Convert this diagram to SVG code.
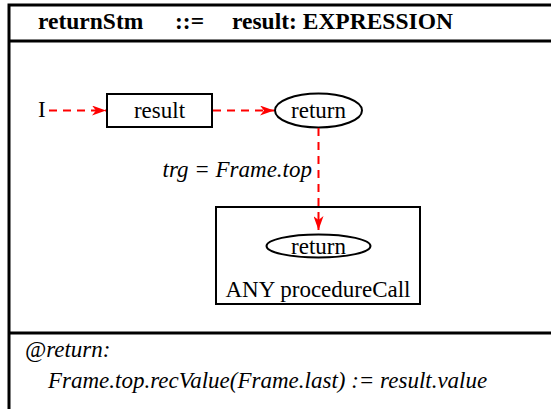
<svg xmlns="http://www.w3.org/2000/svg" width="551" height="409" viewBox="0 0 551 409">
<style>
.t{font-family:"Liberation Serif","Times New Roman",serif;font-size:23px;fill:#000}
.b{font-weight:bold;font-size:23.5px}
.i{font-style:italic}
.box{fill:none;stroke:#000;stroke-width:2}
.frame{fill:none;stroke:#000;stroke-width:3}
.dash{fill:none;stroke:#ff0000;stroke-width:2;stroke-dasharray:8,6}
</style>
<defs>
<marker id="ah" viewBox="0 0 14 10" refX="14" refY="5" markerWidth="14" markerHeight="10" markerUnits="userSpaceOnUse" orient="auto">
<path d="M0,0 L14,5 L0,10 L4,5 z" fill="#ff0000"/>
</marker>
</defs>
<g id="frame">
<rect class="frame" x="9" y="5" width="560" height="430"/>
<line class="frame" x1="9" y1="41" x2="551" y2="41"/>
<line class="frame" x1="9" y1="333" x2="551" y2="333"/>
<text class="t b" x="38" y="29">returnStm</text>
<text class="t b" x="175" y="29">::=</text>
<text class="t b" x="232" y="29">result: EXPRESSION</text>
</g>
<g id="start"><text class="t" x="38" y="117">I</text></g>
<g id="result">
<rect class="box" x="107" y="94" width="105" height="33"/>
<text class="t" x="159.5" y="118" text-anchor="middle">result</text>
</g>
<g id="return1">
<ellipse class="box" cx="318.5" cy="110.5" rx="43.5" ry="17"/>
<text class="t" x="318.5" y="118" text-anchor="middle">return</text>
</g>
<g id="procedureCall">
<rect class="box" x="216" y="207" width="204" height="97"/>
<ellipse class="box" cx="318.5" cy="246" rx="52" ry="11.5"/>
<text class="t" x="318.5" y="254" text-anchor="middle">return</text>
<text class="t" x="318" y="297" text-anchor="middle">ANY procedureCall</text>
</g>
<g id="connectors">
<line class="dash" x1="49" y1="110.5" x2="106" y2="110.5" marker-end="url(#ah)"/>
<line class="dash" x1="213" y1="110.5" x2="274" y2="110.5" marker-end="url(#ah)"/>
<line class="dash" x1="318.5" y1="128" x2="318.5" y2="230" marker-end="url(#ah)"/>
<text class="t i" x="312" y="177" text-anchor="end">trg = Frame.top</text>
</g>
<g id="action">
<text class="t i" x="25" y="357">@return:</text>
<text class="t i" x="48" y="388">Frame.top.recValue(Frame.last) := result.value</text>
</g>
</svg>
